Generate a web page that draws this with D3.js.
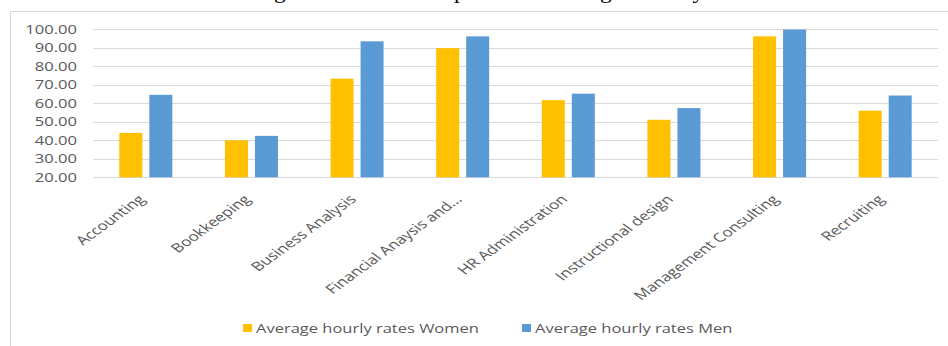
<!DOCTYPE html>
<html><head><meta charset="utf-8">
<script src="https://cdn.jsdelivr.net/npm/d3@7"></script>
<style>html,body{margin:0;padding:0;background:#fff;overflow:hidden}</style>
</head><body><svg id="c" width="948" height="346"></svg>
<script>
const categories = ["Accounting","Bookkeeping","Business Analysis","Financial Anaysis and...","HR Administration","Instructional design","Management Consulting","Recruiting"];
const women = [44, 40, 73.3, 89.8, 61.7, 51.1, 96.2, 56];
const men = [64.6, 42.4, 93.5, 96.2, 65.2, 57.4, 99.9, 64.2];
const seriesNames = ["Average hourly rates Women","Average hourly rates Men"];
const yTicks = [20,30,40,50,60,70,80,90,100];
const titleText = "Figure 3: Gender Disparate in the Gig economy based on Income.";

const SX = 1.38;
const svg = d3.select("#c");
const font = "'Open Sans', sans-serif";

// partially cut title (only its lower part shows, as in the source)
svg.append("text").attr("x", 0).attr("y", 0).attr("text-anchor","middle")
  .attr("font-family","'Liberation Serif', serif").attr("font-size",20)
  .attr("transform","translate(565,-2) scale(1.18,1)")
  .attr("fill","#000").text(titleText);

// chart border
svg.append("rect").attr("x",10.5).attr("y",11.5).attr("width",960).attr("height",360)
  .attr("fill","none").attr("stroke","#d9d9d9").attr("stroke-width",1);

const x0 = d3.scaleBand().domain(categories).range([93, 938]).paddingInner(0).paddingOuter(0);
const y = d3.scaleLinear().domain([20, 100]).range([177.3, 29.3]);
const x1 = d3.scaleBand().domain([0,1]).range([0, x0.bandwidth()]).paddingInner(0.233).paddingOuter(0.877);

// grid
svg.append("g").selectAll("line").data(yTicks).join("line")
  .attr("x1",93).attr("x2",938)
  .attr("y1",d=>Math.round(y(d))+0.5).attr("y2",d=>Math.round(y(d))+0.5)
  .attr("stroke","#d9d9d9").attr("stroke-width",1.2);

// y labels
svg.append("g").selectAll("text").data(yTicks).join("text")
  .attr("transform",d=>`translate(77,${y(d)+4.3}) scale(${SX},1)`)
  .attr("text-anchor","end").attr("font-family",font).attr("font-size",12)
  .attr("fill","#595959").text(d=>d3.format(".2f")(d));

const colors = ["#FFC000","#5B9BD5"];
const data = [women, men];
const g = svg.append("g");
categories.forEach((c,i)=>{
  [0,1].forEach(s=>{
    g.append("rect")
      .attr("x", x0(c)+x1(s)).attr("width", x1.bandwidth())
      .attr("y", y(data[s][i])).attr("height", y(20)-y(data[s][i]))
      .attr("fill", colors[s]);
  });
});

// category labels
svg.append("g").selectAll("text").data(categories).join("text")
  .attr("transform",d=>`translate(${x0(d)+x0.bandwidth()/2-4},${197}) scale(${SX},1) rotate(-45)`)
  .attr("text-anchor","end").attr("dy","0.35em").attr("font-family",font).attr("font-size",12.5)
  .attr("fill","#595959").text(d=>d);

// legend
const legX = [243, 522];
seriesNames.forEach((n,s)=>{
  svg.append("rect").attr("x",legX[s]).attr("y",324).attr("width",9).attr("height",8).attr("fill",colors[s]);
  svg.append("text").attr("transform",`translate(${legX[s]+13},333) scale(1.27,1)`)
    .attr("font-family",font).attr("font-size",13).attr("fill","#595959").text(n);
});
</script></body></html>
